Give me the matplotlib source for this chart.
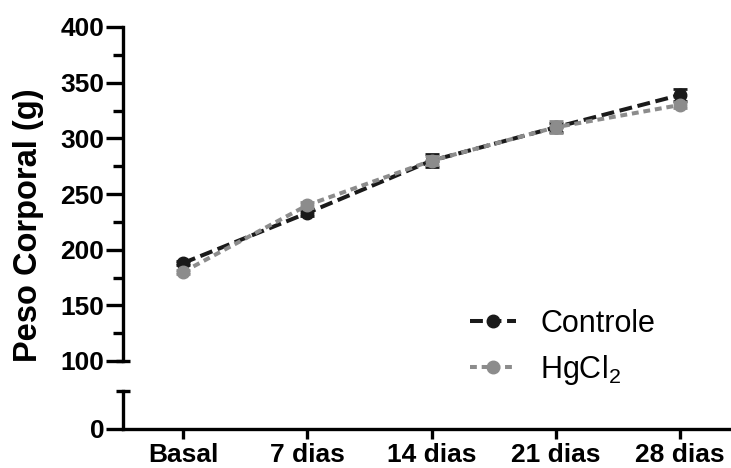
import matplotlib
matplotlib.use("Agg")
import matplotlib.pyplot as plt
import matplotlib.transforms as mtransforms
from matplotlib.lines import Line2D

plt.rcParams['font.family'] = ['Liberation Sans', 'DejaVu Sans']
plt.rcParams['mathtext.default'] = 'regular'

categories = ["Basal", "7 dias", "14 dias", "21 dias", "28 dias"]
controle = [188, 233, 280, 310, 339]
controle_err = [2, 3, 5.5, 4, 5.5]
hgcl2 = [180, 240, 280, 310, 330]
hgcl2_err = [2, 3, 4, 5.4, 3]
upper_yticks = [100, 150, 200, 250, 300, 350, 400]
lower_yticks = [0]

W, H = 731, 468
fig = plt.figure(figsize=(W / 100, H / 100), dpi=100)

left = 123 / W
width = (730 - 123) / W
ax = fig.add_axes([left, (H - 361) / H, width, 334 / H])
axl = fig.add_axes([left, (H - 429) / H, width, 38 / H])

x = list(range(len(categories)))
xlim = (-0.484, 4.40)

black = '#1a1a1a'
gray = '#8c8c8c'
lw = 2.9
ms = 9
dash_c = (3.2, 1.4)
dash_h = (1.7, 1.2)

ax.errorbar(x, controle, yerr=controle_err, color=black, lw=lw, marker='o', ms=ms,
            capsize=5, capthick=2, elinewidth=2, dashes=dash_c, zorder=3)
ax.errorbar(x, hgcl2, yerr=hgcl2_err, color=gray, lw=lw, marker='o', ms=ms,
            capsize=5, capthick=2, elinewidth=2, dashes=dash_h, zorder=4)

ax.set_xlim(*xlim)
ax.set_ylim(100, 400)
ax.set_yticks(upper_yticks)
ax.set_yticks([125, 175, 225, 275, 325, 375], minor=True)
for s in ['top', 'right', 'bottom']:
    ax.spines[s].set_visible(False)
ax.spines['left'].set_linewidth(2.4)
ax.tick_params(axis='y', which='major', length=12.5, width=2.4, labelsize=19, pad=1)
ax.tick_params(axis='y', which='minor', length=7, width=2.4)
ax.tick_params(axis='x', bottom=False, labelbottom=False)
for t in ax.get_yticklabels():
    t.set_fontweight('bold')

axl.set_xlim(*xlim)
axl.set_ylim(0, 34)
axl.set_yticks(lower_yticks)
axl.set_xticks(x)
axl.set_xticklabels(categories, fontsize=19, fontweight='bold')
for s in ['top', 'right']:
    axl.spines[s].set_visible(False)
axl.spines['left'].set_linewidth(2.4)
axl.spines['bottom'].set_linewidth(2.4)
axl.tick_params(axis='y', length=12.5, width=2.4, labelsize=19, pad=1)
axl.tick_params(axis='x', length=7, width=2.4, pad=3)
for t in axl.get_yticklabels():
    t.set_fontweight('bold')
axl.patch.set_visible(False)

# break marks
off = 7 / (W * width)
trans_u = mtransforms.blended_transform_factory(ax.transAxes, ax.transData)
ax.add_line(Line2D([-off, off], [100, 100], transform=trans_u, color='black',
                   lw=2.4, clip_on=False, solid_capstyle='butt'))
trans_l = mtransforms.blended_transform_factory(axl.transAxes, axl.transData)
axl.add_line(Line2D([-off, off], [34, 34], transform=trans_l, color='black',
                    lw=2.4, clip_on=False, solid_capstyle='butt'))

fig.text(29 / W, 1 - 225 / H, 'Peso Corporal (g)', rotation=90, ha='center',
         va='center', fontsize=23.5, fontweight='bold')

handles = [Line2D([], [], color=black, lw=lw, marker='o', ms=ms, dashes=dash_c),
           Line2D([], [], color=gray, lw=lw, marker='o', ms=ms, dashes=dash_h)]
labels = ['Controle', 'HgCl$_2$']
leg = ax.legend(handles, labels, loc='upper left',
                bbox_to_anchor=((470 - 123) / (W * width), (361 - 309) / 334),
                frameon=False, fontsize=22, handlelength=1.5, handletextpad=0.8,
                labelspacing=0.45, borderaxespad=0, borderpad=0)

fig.savefig('out.png', dpi=100)
